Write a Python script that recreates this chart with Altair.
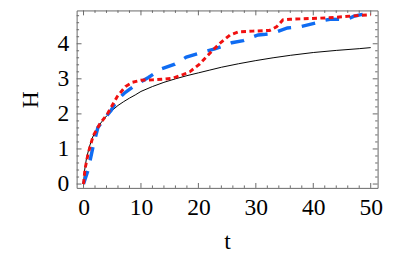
import altair as alt
import pandas as pd

# ---- data ----
black_t = [0, 0.2, 0.5, 1, 1.5, 2, 3, 4, 5, 6, 7, 8, 9, 10, 12, 14, 16, 18, 20, 22, 24, 27, 30, 33, 36, 40, 44, 48, 50]
black_h = [0, 0.4, 0.72, 1.05, 1.3, 1.48, 1.74, 1.94, 2.1, 2.24, 2.35, 2.45, 2.54, 2.64, 2.78, 2.9, 3.0, 3.09, 3.17, 3.25, 3.33, 3.43, 3.52, 3.6, 3.67, 3.75, 3.81, 3.86, 3.89]

blue_t = [0, 0.8, 1.7, 2.5, 3.7, 4.8, 5.9, 7.1, 8.0, 9, 11.3, 12.3, 13.3, 15.9, 17, 17.9, 20.7, 23, 25.8, 27.8, 30.4, 31.7, 33, 35.5, 36.7, 37.8, 40.4, 41.5, 42.9, 45.8, 47, 48.3, 50]
blue_h = [0, 0.4, 1.1, 1.61, 1.88, 2.1, 2.4, 2.59, 2.7, 2.82, 3.04, 3.15, 3.27, 3.42, 3.53, 3.62, 3.76, 3.86, 4.03, 4.09, 4.25, 4.27, 4.30, 4.45, 4.47, 4.49, 4.59, 4.65, 4.70, 4.69, 4.78, 4.83, 4.86]

red_t = [0, 0.25, 0.8, 1.7, 2.8, 4.2, 5.9, 7.3, 8.5, 10, 12, 14, 15.6, 17.3, 18.5, 20.2, 22.4, 24, 25.5, 27, 29.5, 32.4, 33.6, 34.7, 36, 38, 42.7, 46.6, 50]
red_h = [0, 0.42, 0.87, 1.38, 1.70, 2.01, 2.5, 2.78, 2.9, 2.96, 2.97, 2.99, 3.02, 3.12, 3.2, 3.42, 3.80, 4.05, 4.25, 4.34, 4.36, 4.38, 4.48, 4.68, 4.70, 4.71, 4.74, 4.79, 4.83]

x_major = [0, 10, 20, 30, 40, 50]
x_minor = [v for v in range(0, 51, 2) if v % 10 != 0]
y_major = [0, 1, 2, 3, 4]
y_minor = [round(i * 0.2, 1) for i in range(0, 25) if i % 5 != 0]

x_domain = [-1.2, 51.2]
y_domain = [-0.11, 4.95]

W, H = 307, 181
FONT = "Liberation Serif"
FRAME = "#666666"
FS = 24

xs = alt.Scale(domain=x_domain, nice=False, zero=False)
ys = alt.Scale(domain=y_domain, nice=False, zero=False)

df_black = pd.DataFrame({"t": black_t, "h": black_h})
df_blue = pd.DataFrame({"t": blue_t, "h": blue_h})
df_red = pd.DataFrame({"t": red_t, "h": red_h})

x_axis = alt.Axis(values=x_major, ticks=False, tickSize=0, domain=False, grid=False,
                  labelFont=FONT, labelFontSize=FS, labelColor="black", labelPadding=8,
                  title="t", titleFont=FONT, titleFontSize=FS, titleFontWeight="normal",
                  titleColor="black", titlePadding=11, format="d")
y_axis = alt.Axis(values=y_major, ticks=False, tickSize=0, domain=False, grid=False,
                  labelFont=FONT, labelFontSize=FS, labelColor="black", labelPadding=8,
                  title="H", titleFont=FONT, titleFontSize=FS, titleFontWeight="normal",
                  titleColor="black", titlePadding=15, format="d")

X = alt.X("t:Q", scale=xs, axis=x_axis)
Y = alt.Y("h:Q", scale=ys, axis=y_axis)

black = alt.Chart(df_black).mark_line(color="black", strokeWidth=1, clip=True).encode(x=X, y=Y)
blue = alt.Chart(df_blue).mark_line(color="#0f6cf2", strokeWidth=3.5, strokeDash=[14, 11], clip=True).encode(x=X, y=Y)
red = alt.Chart(df_red).mark_line(color="#f01010", strokeWidth=3, strokeDash=[5, 3.5], clip=True).encode(x=X, y=Y)


def xticks(vals, length):
    d = pd.DataFrame({"t": vals})
    bottom = alt.Chart(d).mark_rule(color=FRAME, strokeWidth=1).encode(
        x=X, y=alt.value(H), y2=alt.value(H - length))
    top = alt.Chart(d).mark_rule(color=FRAME, strokeWidth=1).encode(
        x=X, y=alt.value(0), y2=alt.value(length))
    return [bottom, top]


def yticks(vals, length):
    d = pd.DataFrame({"h": vals})
    left = alt.Chart(d).mark_rule(color=FRAME, strokeWidth=1).encode(
        y=Y, x=alt.value(0), x2=alt.value(length))
    right = alt.Chart(d).mark_rule(color=FRAME, strokeWidth=1).encode(
        y=Y, x=alt.value(W), x2=alt.value(W - length))
    return [left, right]


layers = [black] + xticks(x_major, 5) + xticks(x_minor, 2.5) + yticks(y_major, 5) + yticks(y_minor, 2.5) + [blue, red]

chart = alt.layer(*layers).properties(
    width=W, height=H,
    autosize=alt.AutoSizeParams(type="none"),
    padding={"left": 70, "top": 0, "right": 31, "bottom": 68},
).configure_view(stroke=FRAME, strokeWidth=1)

chart.save("out.html", embed_options={"renderer": "svg", "actions": False})
